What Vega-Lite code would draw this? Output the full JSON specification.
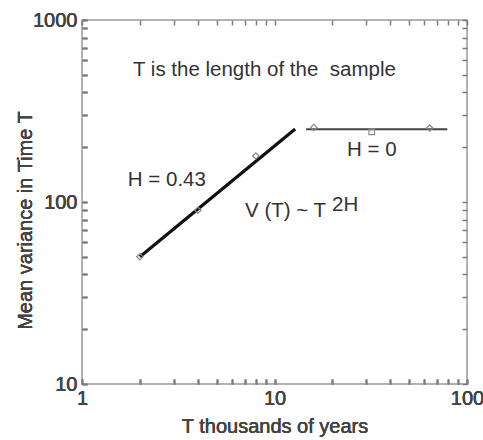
{
  "$schema": "https://vega.github.io/schema/vega-lite/v6.json",
  "width": 385,
  "height": 364,
  "autosize": {"type": "none"},
  "padding": {"left": 82, "top": 20, "right": 16, "bottom": 56},
  "config": {
    "font": "Liberation Sans",
    "view": {"stroke": "#9a9a9a", "strokeWidth": 1.5}
  },
  "datasets": {
    "points": [
      {"T": 2, "V": 50},
      {"T": 4, "V": 90},
      {"T": 8, "V": 179},
      {"T": 16, "V": 257},
      {"T": 32, "V": 243},
      {"T": 64, "V": 255}
    ],
    "fit1": [{"T": 2, "V": 50}, {"T": 12.8, "V": 252}],
    "fit2": [{"T": 14.6, "V": 251}, {"T": 79, "V": 251}],
    "notes": [
      {"T": 1.84, "V": 531, "label": "T is the length of the\u00a0 sample"},
      {"T": 1.73, "V": 132, "label": "H = 0.43"},
      {"T": 23.8, "V": 193, "label": "H = 0"},
      {"T": 7.03, "V": 89, "label": "V (T) ~ T"},
      {"T": 19.9, "V": 96, "label": "2H"}
    ]
  },
  "encoding": {
    "x": {
      "field": "T", "type": "quantitative",
      "scale": {"type": "log", "domain": [1, 100]},
      "axis": {
        "orient": "bottom", "offset": -5, "grid": false, "domain": false,
        "title": "T thousands of years", "titlePadding": 8,
        "titleFont": "Liberation Sans", "titleFontSize": 20, "titleFontWeight": "normal", "titleColor": "#444444",
        "values": [1, 2, 3, 4, 5, 6, 7, 8, 9, 10, 20, 30, 40, 50, 60, 70, 80, 90, 100],
        "labelExpr": "datum.value == 1 || datum.value == 10 || datum.value == 100 ? format(datum.value, 'd') : ''",
        "labelFont": "Liberation Sans", "labelFontSize": 20, "labelColor": "#444444",
        "labelOverlap": false, "labelFlush": false, "labelPadding": 4,
        "tickSize": 5, "tickColor": "#7a7a7a", "tickWidth": 1.5
      }
    },
    "y": {
      "field": "V", "type": "quantitative",
      "scale": {"type": "log", "domain": [10, 1000]},
      "axis": {
        "orient": "left", "offset": -5, "grid": false, "domain": false,
        "title": "Mean variance in Time T", "titlePadding": -3, "titleY": 200,
        "titleFont": "Liberation Sans", "titleFontSize": 20, "titleFontWeight": "normal", "titleColor": "#444444",
        "values": [10, 20, 30, 40, 50, 60, 70, 80, 90, 100, 200, 300, 400, 500, 600, 700, 800, 900, 1000],
        "labelExpr": "datum.value == 10 || datum.value == 100 || datum.value == 1000 ? format(datum.value, 'd') : ''",
        "labelFont": "Liberation Sans", "labelFontSize": 20, "labelColor": "#444444",
        "labelOverlap": false, "labelPadding": 5,
        "tickSize": 5, "tickColor": "#7a7a7a", "tickWidth": 1.5
      }
    }
  },
  "layer": [
    {
      "data": {"name": "fit1"},
      "mark": {"type": "line", "color": "#111111", "strokeWidth": 3.2}
    },
    {
      "data": {"name": "fit2"},
      "mark": {"type": "line", "color": "#444444", "strokeWidth": 2},
      "encoding": {
        "x": {
          "field": "T", "type": "quantitative",
          "axis": {
            "orient": "top", "offset": -5, "grid": false, "domain": false, "title": null, "labels": false,
            "values": [1, 2, 3, 4, 5, 6, 7, 8, 9, 10, 20, 30, 40, 50, 60, 70, 80, 90, 100],
            "tickSize": 5, "tickColor": "#7a7a7a", "tickWidth": 1.5
          }
        },
        "y": {
          "field": "V", "type": "quantitative",
          "axis": {
            "orient": "right", "offset": -5, "grid": false, "domain": false, "title": null, "labels": false,
            "values": [10, 20, 30, 40, 50, 60, 70, 80, 90, 100, 200, 300, 400, 500, 600, 700, 800, 900, 1000],
            "tickSize": 5, "tickColor": "#7a7a7a", "tickWidth": 1.5
          }
        }
      }
    },
    {
      "data": {"name": "points"},
      "transform": [{"filter": "datum.T != 32"}],
      "mark": {"type": "point", "shape": "diamond", "filled": false, "stroke": "#888888", "strokeWidth": 1.2, "size": 40, "opacity": 1}
    },
    {
      "data": {"name": "points"},
      "transform": [{"filter": "datum.T == 32"}],
      "mark": {"type": "point", "shape": "square", "filled": false, "stroke": "#888888", "strokeWidth": 1.2, "size": 30, "opacity": 1}
    },
    {
      "data": {"name": "notes"},
      "mark": {"type": "text", "align": "left", "baseline": "middle", "font": "Liberation Sans", "fontSize": 20.5, "color": "#333333"},
      "encoding": {
        "text": {"field": "label"}
      }
    }
  ],
  "resolve": {"axis": {"x": "independent", "y": "independent"}}
}
